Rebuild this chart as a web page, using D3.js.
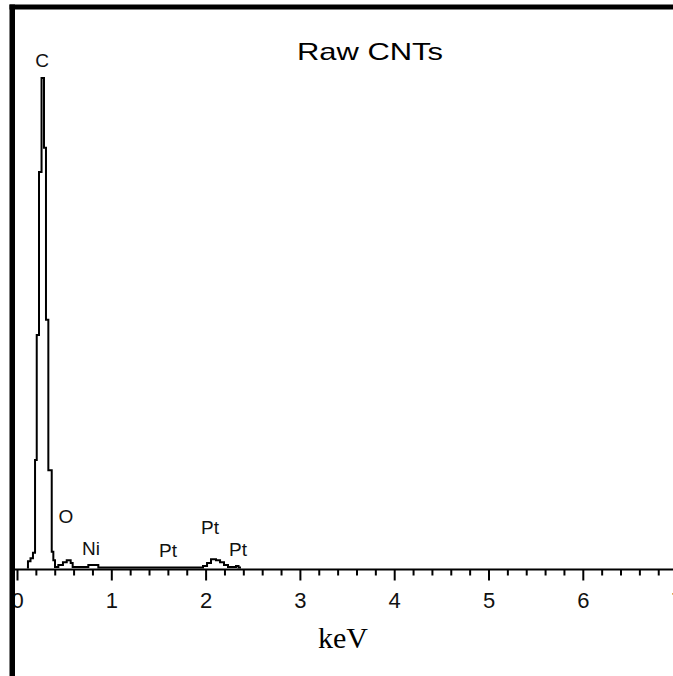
<!DOCTYPE html>
<html>
<head>
<meta charset="utf-8">
<script src="https://cdn.jsdelivr.net/npm/d3@7"></script>
<style>
  body { margin: 0; background: #fff; }
  svg { display: block; }
</style>
</head>
<body>
<div id="chart"></div>
<script>
/////////////////////////Data////////////////////////////

// Spectrum channels: start energy (keV) of each step and its counts (C peak = 1000)
let energies = [0.100, 0.111, 0.138, 0.164, 0.186, 0.204, 0.228, 0.255, 0.281, 0.302,
  0.327, 0.363, 0.380, 0.398, 0.433, 0.482, 0.522, 0.564, 0.585, 0.751,
  0.857, 1.967, 2.010, 2.052, 2.105, 2.148, 2.190, 2.232, 2.317, 2.344, 2.370];
let counts = [4, 17, 23, 34, 223, 477, 809, 1000, 858, 508,
  202, 36, 19, 5, 9, 15, 19, 13, 5, 9,
  4, 7, 13, 21, 19, 15, 9, 5, 7, 4, 4];

// Element labels above the peaks
let peakNames = ["C", "O", "Ni", "Pt", "Pt", "Pt"];
let peakEnergies = [0.26, 0.514, 0.779, 1.596, 2.041, 2.338];
let peakLabelCounts = [1023, 95, 30, 25, 72, 27];

// Axis ticks
let majorTicks = [0, 1, 2, 3, 4, 5, 6, 7];
let minorTicks = d3.range(0, 35).map(i => +(i * 0.2).toFixed(1));

let title = "Raw CNTs";
let xTitle = "keV";

/////////////////////////Set Up Chart////////////////////////////

let svgWidth = 673;
let svgHeight = 676;

let svg = d3.select("#chart")
  .append("svg")
  .attr("width", svgWidth)
  .attr("height", svgHeight);

let xScale = d3.scaleLinear()
  .domain([0, 7])
  .range([17.5, 677.6]);

let yScale = d3.scaleLinear()
  .domain([0, 1000])
  .range([569.5, 78]);

let axisY = yScale(0);

/////////////////////////Axis////////////////////////////

svg.append("line")
  .attr("x1", 12)
  .attr("x2", svgWidth)
  .attr("y1", axisY)
  .attr("y2", axisY)
  .attr("stroke", "#000")
  .attr("stroke-width", 2);

// minor ticks
svg.selectAll(".minor")
  .data(minorTicks.filter(d => !majorTicks.includes(d)))
  .enter()
  .append("line")
  .attr("class", "minor")
  .attr("x1", d => xScale(d))
  .attr("x2", d => xScale(d))
  .attr("y1", axisY)
  .attr("y2", axisY + 6)
  .attr("stroke", "#000")
  .attr("stroke-width", 2);

// major ticks
svg.selectAll(".major")
  .data(majorTicks)
  .enter()
  .append("line")
  .attr("class", "major")
  .attr("x1", d => xScale(d))
  .attr("x2", d => xScale(d))
  .attr("y1", axisY)
  .attr("y2", axisY + 11)
  .attr("stroke", "#000")
  .attr("stroke-width", 2);

svg.selectAll(".tick-label")
  .data(majorTicks)
  .enter()
  .append("text")
  .attr("class", "tick-label")
  .attr("x", d => xScale(d))
  .attr("y", 608)
  .attr("text-anchor", "middle")
  .attr("font-family", "Arial, 'Liberation Sans', sans-serif")
  .attr("font-size", 22)
  .attr("fill", "#111")
  .text(d => d);

svg.append("text")
  .attr("x", 343)
  .attr("y", 648)
  .attr("text-anchor", "middle")
  .attr("font-family", "'Times New Roman', 'Liberation Serif', serif")
  .attr("font-size", 30)
  .attr("fill", "#000")
  .text(xTitle);

/////////////////////////Spectrum////////////////////////////

let spectrum = energies.map((e, i) => ({ e: e, c: counts[i] }));

let line = d3.line()
  .x(d => xScale(d.e))
  .y(d => yScale(d.c))
  .curve(d3.curveStepAfter);

svg.append("path")
  .datum(spectrum)
  .attr("d", line)
  .attr("fill", "none")
  .attr("stroke", "#000")
  .attr("stroke-width", 2);

// Peak labels
svg.selectAll(".peak")
  .data(peakNames)
  .enter()
  .append("text")
  .attr("class", "peak")
  .attr("x", (d, i) => xScale(peakEnergies[i]))
  .attr("y", (d, i) => yScale(peakLabelCounts[i]))
  .attr("text-anchor", "middle")
  .attr("font-family", "Arial, 'Liberation Sans', sans-serif")
  .attr("font-size", 19)
  .attr("fill", "#111")
  .text(d => d);

// Title
svg.append("text")
  .attr("x", 297)
  .attr("y", 60)
  .attr("font-family", "Arial, 'Liberation Sans', sans-serif")
  .attr("font-size", 24)
  .attr("textLength", 146)
  .attr("lengthAdjust", "spacingAndGlyphs")
  .attr("fill", "#000")
  .text(title);

/////////////////////////Frame////////////////////////////

svg.append("rect")
  .attr("x", 9.5)
  .attr("y", 4.5)
  .attr("width", svgWidth - 9.5)
  .attr("height", 5)
  .attr("fill", "#000");

svg.append("rect")
  .attr("x", 9.5)
  .attr("y", 4.5)
  .attr("width", 5.5)
  .attr("height", svgHeight - 4.5)
  .attr("fill", "#000");
</script>
</body>
</html>
